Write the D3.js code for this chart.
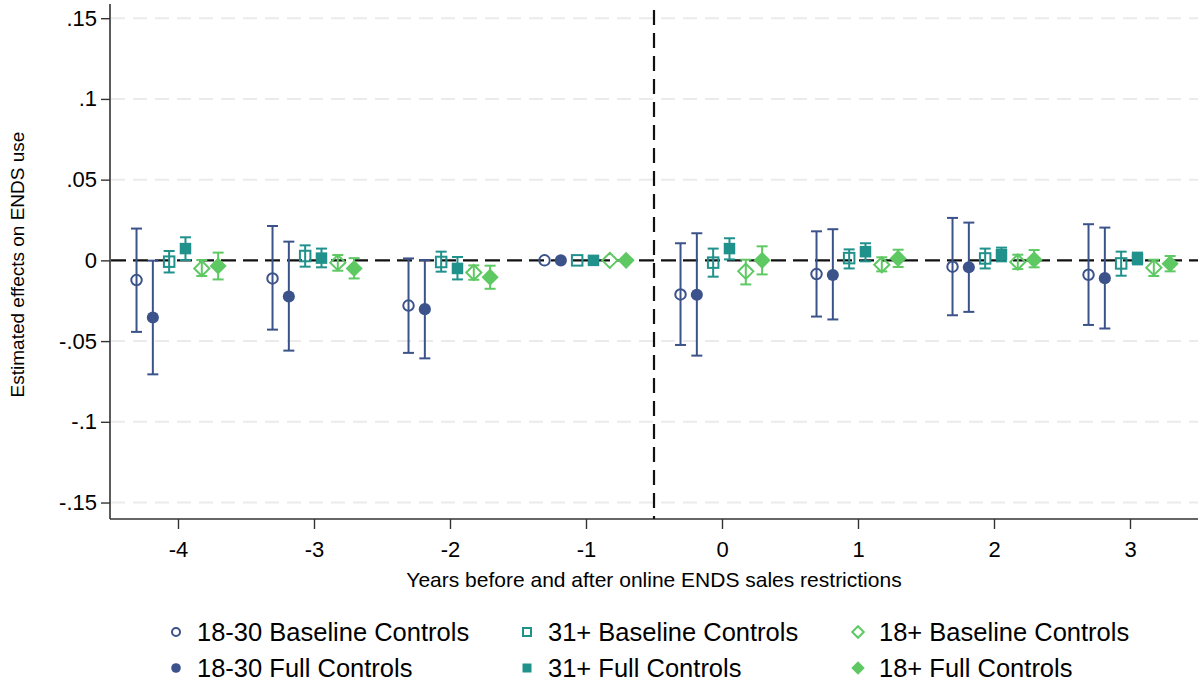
<!DOCTYPE html>
<html>
<head>
<meta charset="utf-8">
<script src="https://cdn.jsdelivr.net/npm/d3@7"></script>
<style>
  html, body { margin: 0; padding: 0; background: #fff; }
  svg { display: block; font-family: Arial, "Liberation Sans", sans-serif; }
</style>
</head>
<body>
<svg id="chart" width="1202" height="683"></svg>
<script>
// Event-time years relative to the online ENDS sales restriction
const years = [-4, -3, -2, -1, 0, 1, 2, 3];

// Point estimates and 95% confidence bounds per specification (year -1 is the omitted reference)
const est1830Base = [-0.0122, -0.0112, -0.0280, 0, -0.0211, -0.0085, -0.0039, -0.0089];
const lo1830Base  = [-0.0443, -0.0429, -0.0573, null, -0.0524, -0.0348, -0.0340, -0.0400];
const hi1830Base  = [ 0.0197,  0.0213,  0.0012, null,  0.0106,  0.0180,  0.0263,  0.0224];

const est1830Full = [-0.0354, -0.0224, -0.0302, 0, -0.0213, -0.0091, -0.0043, -0.0110];
const lo1830Full  = [-0.0706, -0.0559, -0.0607, null, -0.0590, -0.0366, -0.0319, -0.0422];
const hi1830Full  = [-0.0002,  0.0116,  0.0002, null,  0.0168,  0.0193,  0.0234,  0.0203];

const est31Base = [-0.0008, 0.0027, -0.0010, 0, -0.0014, 0.0014, 0.0012, -0.0019];
const lo31Base  = [-0.0075, -0.0039, -0.0070, null, -0.0101, -0.0050, -0.0050, -0.0095];
const hi31Base  = [ 0.0058, 0.0093, 0.0054, null, 0.0073, 0.0068, 0.0073, 0.0054];

const est31Full = [0.0073, 0.0014, -0.0050, 0, 0.0073, 0.0054, 0.0035, 0.0012];
const lo31Full  = [0.0002, -0.0043, -0.0118, null, 0.0006, -0.0006, -0.0006, -0.0025];
const hi31Full  = [0.0143, 0.0073, 0.0021, null, 0.0137, 0.0106, 0.0079, 0.0048];

const est18Base = [-0.0050, -0.0014, -0.0075, 0, -0.0068, -0.0027, -0.0010, -0.0045];
const lo18Base  = [-0.0097, -0.0064, -0.0120, null, -0.0149, -0.0068, -0.0054, -0.0097];
const hi18Base  = [ 0.0002, 0.0033, -0.0031, null, 0.0004, 0.0019, 0.0035, 0.0004];

const est18Full = [-0.0035, -0.0050, -0.0104, 0, 0.0000, 0.0012, 0.0004, -0.0021];
const lo18Full  = [-0.0118, -0.0112, -0.0176, null, -0.0087, -0.0041, -0.0043, -0.0068];
const hi18Full  = [ 0.0048, 0.0014, -0.0033, null, 0.0087, 0.0066, 0.0064, 0.0027];

// Axis ticks and labels
const yTicks = [0.15, 0.1, 0.05, 0, -0.05, -0.1, -0.15];
const yTickLabels = [".15", ".1", ".05", "0", "-.05", "-.1", "-.15"];
const xTicks = years;
const xTickLabels = ["-4", "-3", "-2", "-1", "0", "1", "2", "3"];

const seriesNames = [
  "18-30 Baseline Controls", "18-30 Full Controls",
  "31+ Baseline Controls", "31+ Full Controls",
  "18+ Baseline Controls", "18+ Full Controls"
];

const navy = "#3b528b", teal = "#21918c", green = "#5ec962";

const series = [
  { name: seriesNames[0], est: est1830Base, lo: lo1830Base, hi: hi1830Base, color: navy,  shape: "circle",  filled: false, offset: -0.305 },
  { name: seriesNames[1], est: est1830Full, lo: lo1830Full, hi: hi1830Full, color: navy,  shape: "circle",  filled: true,  offset: -0.185 },
  { name: seriesNames[2], est: est31Base,   lo: lo31Base,   hi: hi31Base,   color: teal,  shape: "square",  filled: false, offset: -0.065 },
  { name: seriesNames[3], est: est31Full,   lo: lo31Full,   hi: hi31Full,   color: teal,  shape: "square",  filled: true,  offset:  0.055 },
  { name: seriesNames[4], est: est18Base,   lo: lo18Base,   hi: hi18Base,   color: green, shape: "diamond", filled: false, offset:  0.175 },
  { name: seriesNames[5], est: est18Full,   lo: lo18Full,   hi: hi18Full,   color: green, shape: "diamond", filled: true,  offset:  0.295 }
];

const svg = d3.select("#chart");
const plotLeft = 110, plotRight = 1198, plotTop = 4, plotBottom = 519;

const x = d3.scaleLinear().domain([-4.5, 3.5]).range([plotLeft, plotRight]);
const y = d3.scaleLinear().domain([-0.1602, 0.1588]).range([plotBottom, plotTop]);

// Horizontal gridlines
svg.append("g").selectAll("line")
  .data(yTicks.filter(d => d !== 0))
  .join("line")
  .attr("x1", plotLeft + 1).attr("x2", plotRight)
  .attr("y1", d => y(d)).attr("y2", d => y(d))
  .attr("stroke", "#ebebeb").attr("stroke-width", 2)
  .attr("stroke-dasharray", "14,8");

// Y axis
const yAxis = d3.axisLeft(y).tickValues(yTicks)
  .tickFormat((d, i) => yTickLabels[i]).tickSize(9).tickPadding(4);
const gy = svg.append("g").attr("transform", `translate(${plotLeft},0)`).call(yAxis);
gy.select(".domain").attr("d", `M0,${plotTop}V${plotBottom}`).attr("stroke", "#333").attr("stroke-width", 1.6);
gy.selectAll(".tick line").attr("stroke", "#333").attr("stroke-width", 1.4);
gy.selectAll(".tick text").attr("font-size", 22).attr("fill", "#000")
  .attr("font-family", "Arial, 'Liberation Sans', sans-serif");

// X axis
const xAxis = d3.axisBottom(x).tickValues(xTicks)
  .tickFormat((d, i) => xTickLabels[i]).tickSize(10).tickPadding(12);
const gx = svg.append("g").attr("transform", `translate(0,${plotBottom})`).call(xAxis);
gx.select(".domain").attr("d", `M${plotLeft},0H${plotRight}`).attr("stroke", "#333").attr("stroke-width", 1.6);
gx.selectAll(".tick line").attr("stroke", "#333").attr("stroke-width", 1.4);
gx.selectAll(".tick text").attr("font-size", 22).attr("fill", "#000")
  .attr("font-family", "Arial, 'Liberation Sans', sans-serif");

// Zero reference line
svg.append("line")
  .attr("x1", plotLeft + 1).attr("x2", plotRight)
  .attr("y1", y(0)).attr("y2", y(0))
  .attr("stroke", "#111").attr("stroke-width", 2.2)
  .attr("stroke-dasharray", "15,7");

// Policy timing line between years -1 and 0
svg.append("line")
  .attr("x1", x(-0.5)).attr("x2", x(-0.5))
  .attr("y1", plotTop + 6).attr("y2", plotBottom)
  .attr("stroke", "#111").attr("stroke-width", 2.2)
  .attr("stroke-dasharray", "15,8");

// Axis titles
svg.append("text")
  .attr("transform", `translate(24,${(plotTop + plotBottom) / 2 + 3}) rotate(-90)`)
  .attr("text-anchor", "middle").attr("font-size", 19).attr("fill", "#000")
  .text("Estimated effects on ENDS use");

svg.append("text")
  .attr("x", (plotLeft + plotRight) / 2).attr("y", 587)
  .attr("text-anchor", "middle").attr("font-size", 21).attr("fill", "#000")
  .text("Years before and after online ENDS sales restrictions");

// Marker drawing helper
function drawMarker(g, shape, cx, cy, size, color, filled) {
  let el;
  if (shape === "circle") {
    el = g.append("circle").attr("cx", cx).attr("cy", cy).attr("r", filled ? size / 2 + 0.8 : size / 2);
  } else if (shape === "square") {
    const s = filled ? size + 1 : size;
    el = g.append("rect").attr("x", cx - s / 2).attr("y", cy - s / 2).attr("width", s).attr("height", s);
  } else {
    const h = filled ? size * 0.72 + 1 : size * 0.72;
    el = g.append("path").attr("d", `M${cx},${cy - h}L${cx + h},${cy}L${cx},${cy + h}L${cx - h},${cy}Z`);
  }
  if (filled) el.attr("fill", color).attr("stroke", "none");
  else el.attr("fill", "none").attr("stroke", color).attr("stroke-width", 2);
  return el;
}

// Error bars and point estimates
series.forEach(s => {
  const g = svg.append("g");
  const pts = years.map((yr, i) => ({ yr, est: s.est[i], lo: s.lo[i], hi: s.hi[i] }));
  pts.forEach(p => {
    const cx = x(p.yr + s.offset);
    if (p.lo !== null && p.hi !== null) {
      g.append("line").attr("x1", cx).attr("x2", cx).attr("y1", y(p.lo)).attr("y2", y(p.hi))
        .attr("stroke", s.color).attr("stroke-width", 2);
      [p.lo, p.hi].forEach(v => {
        g.append("line").attr("x1", cx - 5.5).attr("x2", cx + 5.5).attr("y1", y(v)).attr("y2", y(v))
          .attr("stroke", s.color).attr("stroke-width", 2);
      });
    }
    drawMarker(g, s.shape, cx, y(p.est), 10.5, s.color, s.filled);
  });
});

// Legend: three columns, two rows
const legendCols = [176, 527, 858];
const legendRows = [632, 668];
series.forEach((s, i) => {
  const col = Math.floor(i / 2), row = i % 2;
  const lx = legendCols[col], ly = legendRows[row];
  const g = svg.append("g");
  drawMarker(g, s.shape, lx, ly, 8, s.color, s.filled);
  g.append("text").attr("x", lx + 21).attr("y", ly).attr("dy", "0.36em")
    .attr("font-size", 25.5).attr("fill", "#000").text(s.name);
});
</script>
</body>
</html>
